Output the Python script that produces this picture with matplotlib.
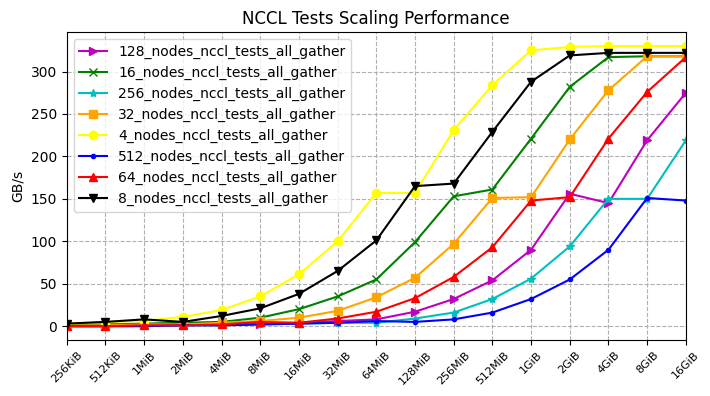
import matplotlib
matplotlib.use("Agg")
import matplotlib.pyplot as plt

sizes = ["256KiB", "512KiB", "1MiB", "2MiB", "4MiB", "8MiB", "16MiB", "32MiB", "64MiB",
         "128MiB", "256MiB", "512MiB", "1GiB", "2GiB", "4GiB", "8GiB", "16GiB"]

n128 = [0, 0, 1, 1, 2, 3, 4, 6, 8, 17, 32, 54, 90, 156, 145, 219, 275]
n16 = [1, 2, 3, 4, 5, 10, 20, 35, 55, 99, 153, 161, 221, 282, 317, 318, 318]
n256 = [0, 0, 0, 1, 1, 2, 3, 4, 4, 9, 16, 32, 56, 94, 150, 150, 219]
n32 = [1, 1, 2, 2, 4, 6, 10, 18, 34, 57, 97, 151, 152, 220, 278, 318, 318]
n4 = [3, 5, 6, 11, 19, 35, 61, 100, 157, 157, 231, 284, 325, 329, 330, 330, 330]
n512 = [0, 0, 0, 1, 1, 2, 3, 4, 6, 5, 8, 16, 32, 55, 90, 151, 148]
n64 = [0, 0, 1, 1, 2, 5, 4, 9, 17, 33, 58, 93, 148, 152, 221, 276, 317]
n8 = [3, 5, 8, 5, 12, 21, 38, 65, 101, 165, 168, 229, 288, 319, 322, 322, 322]

series = [
    ("128_nodes_nccl_tests_all_gather", n128, "m", ">"),
    ("16_nodes_nccl_tests_all_gather", n16, "g", "x"),
    ("256_nodes_nccl_tests_all_gather", n256, "c", "*"),
    ("32_nodes_nccl_tests_all_gather", n32, "orange", "s"),
    ("4_nodes_nccl_tests_all_gather", n4, "yellow", "o"),
    ("512_nodes_nccl_tests_all_gather", n512, "b", "."),
    ("64_nodes_nccl_tests_all_gather", n64, "r", "^"),
    ("8_nodes_nccl_tests_all_gather", n8, "k", "v"),
]

fig, ax = plt.subplots(figsize=(7.1, 3.96), dpi=100)
x = list(range(len(sizes)))
for name, vals, col, mk in series:
    ax.plot(x, vals, color=col, marker=mk, label=name)

ax.set_xticks(x)
ax.set_xticklabels(sizes, rotation=45, fontsize=8)
ax.set_xlim(0, len(sizes) - 1)
ax.set_ylabel("GB/s")
ax.set_title("NCCL Tests Scaling Performance")
ax.grid(True, linestyle="--")
ax.legend(loc="upper left")
plt.subplots_adjust(left=0.094, right=0.966, top=0.919, bottom=0.141)
plt.savefig("out.png")
